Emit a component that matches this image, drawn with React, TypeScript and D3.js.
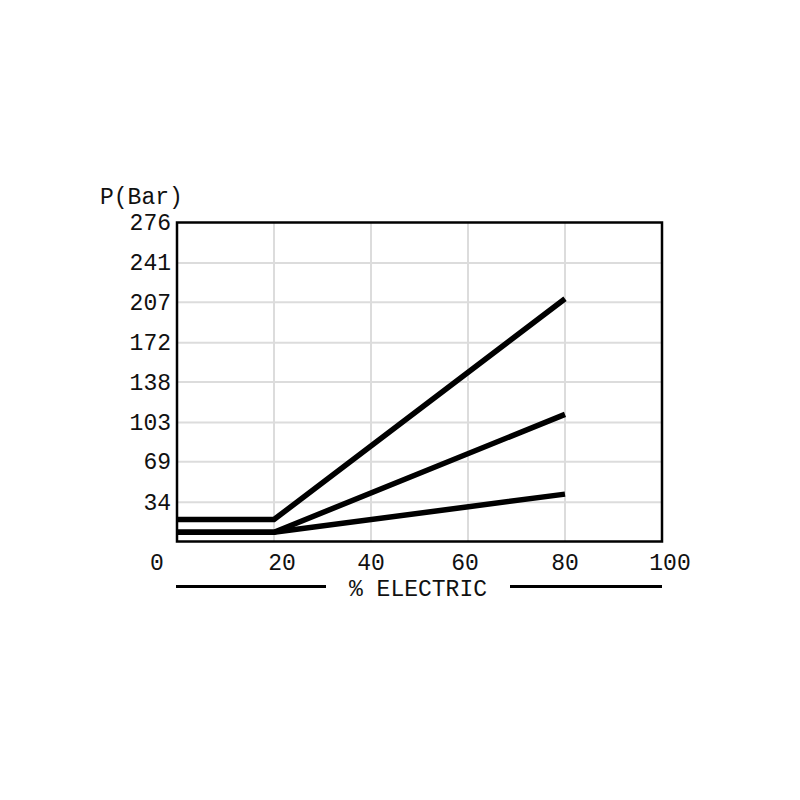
import React from "react";
import * as d3 from "d3";

// % electric input vs. pressure, three curves
const X_TICKS = [0, 20, 40, 60, 80, 100];
const Y_TICKS = [34, 69, 103, 138, 172, 207, 241, 276];

const ELECTRIC = [0, 20, 80];
const HIGH = [19, 19, 210];
const MID = [8, 8, 110];
const LOW = [8, 8, 41];

const SERIES = [HIGH, MID, LOW];

const FONT = "'Liberation Mono', 'Courier New', monospace";

export default function App() {
  const W = 800, H = 800;
  const left = 177, right = 662, top = 222.5, bottom = 541.5;

  const x = d3.scaleLinear().domain([0, 100]).range([left, right]);
  const y = d3.scaleLinear().domain([0, 276]).range([bottom, top]);

  const line = d3.line<number>()
    .x((_, i) => x(ELECTRIC[i]))
    .y(d => y(d));

  // small nudges so the tick labels sit like in the print
  const labelDx = (v: number) => (v === 0 ? -20 : v === 20 || v === 100 ? 8 : v === 60 ? -3 : 0);

  return (
    <svg width={W} height={H} style={{ position: "absolute", left: 0, top: 0, background: "#fff" }}
      fontFamily={FONT}>
      <rect x={0} y={0} width={W} height={H} fill="#fff" />

      {/* grid */}
      <g stroke="#dcdcdc" strokeWidth={2}>
        {X_TICKS.filter(v => v > 0 && v < 100).map(v => (
          <line key={"gx" + v} x1={x(v)} x2={x(v)} y1={top} y2={bottom} />
        ))}
        {Y_TICKS.filter(v => v < 276).map(v => (
          <line key={"gy" + v} x1={left} x2={right} y1={y(v)} y2={y(v)} />
        ))}
      </g>

      {/* curves */}
      <g fill="none" stroke="#000" strokeWidth={5.5} strokeLinejoin="miter">
        {SERIES.map((s, i) => <path key={i} d={line(s) || ""} />)}
      </g>

      {/* frame */}
      <rect x={left} y={top} width={right - left} height={bottom - top}
        fill="none" stroke="#000" strokeWidth={2.5} />

      {/* y tick labels */}
      <g fontSize={23} fill="#111" textAnchor="end">
        {Y_TICKS.map(v => (
          <text key={"ty" + v} x={171} y={y(v) + 7.5}>{v}</text>
        ))}
      </g>

      {/* x tick labels */}
      <g fontSize={23} fill="#111" textAnchor="middle">
        {X_TICKS.map(v => (
          <text key={"tx" + v} x={x(v) + labelDx(v)} y={570}>{v}</text>
        ))}
      </g>

      {/* titles */}
      <text x={100} y={204} fontSize={23} fill="#111">P(Bar)</text>
      <text x={418} y={596} fontSize={23} fill="#111" textAnchor="middle">% ELECTRIC</text>
      <line x1={176} x2={326} y1={586.5} y2={586.5} stroke="#000" strokeWidth={3} />
      <line x1={510} x2={662} y1={586.5} y2={586.5} stroke="#000" strokeWidth={3} />
    </svg>
  );
}
